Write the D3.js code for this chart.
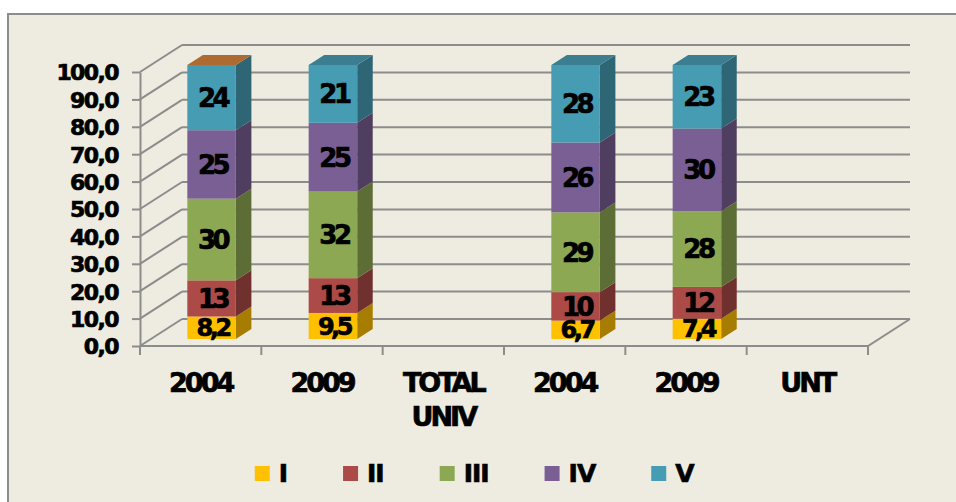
<!DOCTYPE html>
<html>
<head>
<meta charset="utf-8">
<script src="https://cdn.jsdelivr.net/npm/d3@7"></script>
<style>
  body { margin: 0; background: #fff; }
  text { font-family: "DejaVu Sans", Verdana, sans-serif; font-weight: bold; fill: #000; stroke: #000; stroke-width: 0.7px; }
</style>
</head>
<body>
<div id="chart"></div>
<script>
// Data
const categories = ["2004", "2009", "TOTAL UNIV", "2004", "2009", "UNT"];
const seriesNames = ["I", "II", "III", "IV", "V"];
const sI   = [8.2, 9.5, null, 6.7, 7.4, null];
const sII  = [13.2, 12.7, null, 10.4, 11.6, null];
const sIII = [29.8, 31.6, null, 29.1, 27.6, null];
const sIV  = [25.0, 25.1, null, 25.5, 30.2, null];
const sV   = [23.8, 21.1, null, 28.3, 23.2, null];
const yTicks = [0, 10, 20, 30, 40, 50, 60, 70, 80, 90, 100];

const seriesValues = [sI, sII, sIII, sIV, sV];
const colors = ["#FFC000", "#AB4A47", "#8DA852", "#7A5F94", "#469CB3"];

const width = 956, height = 502;
const depth = [42, -27];          // projection of the floor depth
const barFront = 0.26, barBack = 0.63;
const grid = "#8C8C8C";

const svg = d3.select("#chart").append("svg")
    .attr("width", width)
    .attr("height", height);

// chart area
svg.append("rect")
    .attr("x", 8).attr("y", 14)
    .attr("width", width + 10).attr("height", height + 10)
    .attr("fill", "#EEECE1")
    .attr("stroke", grid)
    .attr("stroke-width", 2);

const x = d3.scaleBand()
    .domain(d3.range(categories.length))
    .range([140, 868]);

const y = d3.scaleLinear()
    .domain([0, 100])
    .range([346, 72]);

const x0 = x.range()[0], x1 = x.range()[1];
const g = svg.append("g");

// walls
yTicks.forEach(t => {
    g.append("line")
        .attr("x1", x0).attr("y1", y(t))
        .attr("x2", x0 + depth[0]).attr("y2", y(t) + depth[1])
        .attr("stroke", grid).attr("stroke-width", 2);
    g.append("line")
        .attr("x1", x0 + depth[0]).attr("y1", y(t) + depth[1])
        .attr("x2", x1 + depth[0]).attr("y2", y(t) + depth[1])
        .attr("stroke", grid).attr("stroke-width", 2);
});

// floor
g.append("path")
    .attr("d", `M${x0},${y(0)}L${x1},${y(0)}L${x1 + depth[0]},${y(0) + depth[1]}`)
    .attr("fill", "none")
    .attr("stroke", grid).attr("stroke-width", 2);

// category ticks
d3.range(categories.length + 1).forEach(i => {
    const tx = x0 + i * x.step();
    g.append("line")
        .attr("x1", tx).attr("y1", y(0))
        .attr("x2", tx).attr("y2", y(0) + 9)
        .attr("stroke", grid).attr("stroke-width", 2);
});

// y axis
const yAxis = d3.axisLeft(y)
    .tickValues(yTicks)
    .tickSize(8)
    .tickSizeOuter(0)
    .tickPadding(14)
    .tickFormat(d => d3.format(".1f")(d).replace(".", ","));

const ya = svg.append("g")
    .attr("transform", `translate(${x0},0)`)
    .call(yAxis);
ya.selectAll("path, line").attr("stroke", grid).attr("stroke-width", 2);
ya.selectAll("text")
    .attr("font-family", null).attr("fill", "#000")
    .style("font-size", "22px")
    .style("letter-spacing", "-1.6px")
    .attr("dy", "0.36em");

// bars
const bw = x.bandwidth() * 0.4;
const fx = depth[0] * barFront, fy = depth[1] * barFront;
const bx = depth[0] * (barBack - barFront), by = depth[1] * (barBack - barFront);
const topFace = ["#AD6A31", "#3A7E8F", null, "#3A7E8F", "#3A7E8F", null];
const fmt = v => v < 10 ? d3.format(".1f")(v).replace(".", ",") : d3.format(".0f")(v);

categories.forEach((c, i) => {
    if (sI[i] == null) return;
    const left = x(i) + (x.bandwidth() - bw) / 2 + fx;
    let base = 0;
    seriesValues.forEach((s, k) => {
        const v = s[i];
        const yb = y(base) + fy, yt = y(base + v) + fy;
        const col = d3.color(colors[k]);
        // side
        g.append("path")
            .attr("d", `M${left + bw},${yb}L${left + bw + bx},${yb + by}L${left + bw + bx},${yt + by}L${left + bw},${yt}Z`)
            .attr("fill", col.darker(1.2));
        // front
        g.append("rect")
            .attr("x", left).attr("y", yt)
            .attr("width", bw).attr("height", yb - yt)
            .attr("fill", colors[k]);
        if (k === seriesValues.length - 1) {
            g.append("path")
                .attr("d", `M${left},${yt}L${left + bx},${yt + by}L${left + bw + bx},${yt + by}L${left + bw},${yt}Z`)
                .attr("fill", topFace[i]);
        }
        base += v;
    });
    // labels on top of all faces
    base = 0;
    seriesValues.forEach(s => {
        const v = s[i];
        g.append("text")
            .attr("x", left + bw / 2 + 1)
            .attr("y", (y(base) + y(base + v)) / 2 + fy)
            .attr("dy", "0.36em")
            .attr("text-anchor", "middle")
            .style("font-size", v < 10 ? "24px" : "26px")
            .style("letter-spacing", "-3.5px")
            .text(fmt(v));
        base += v;
    });
});

// category labels
categories.forEach((c, i) => {
    const t = svg.append("text")
        .attr("text-anchor", "middle")
        .style("font-size", "27px")
        .style("letter-spacing", "-3px");
    c.split(" ").forEach((w, j) => {
        t.append("tspan")
            .attr("x", x(i) + x.bandwidth() / 2)
            .attr("y", 392 + j * 34)
            .text(w);
    });
});

// legend
const legend = svg.append("g");
let lx = 0;
seriesNames.forEach((n, k) => {
    const item = legend.append("g").attr("transform", `translate(${lx},0)`);
    item.append("rect")
        .attr("x", 0).attr("y", 466)
        .attr("width", 15).attr("height", 15)
        .attr("fill", colors[k]);
    const t = item.append("text")
        .attr("x", 24).attr("y", 482)
        .style("font-size", "25px")
        .style("letter-spacing", "-1px")
        .text(n);
    lx += 24 + t.node().getComputedTextLength() + 56;
});
const lb = legend.node().getBBox();
legend.attr("transform", `translate(${475 - lb.width / 2},0)`);
</script>
</body>
</html>
